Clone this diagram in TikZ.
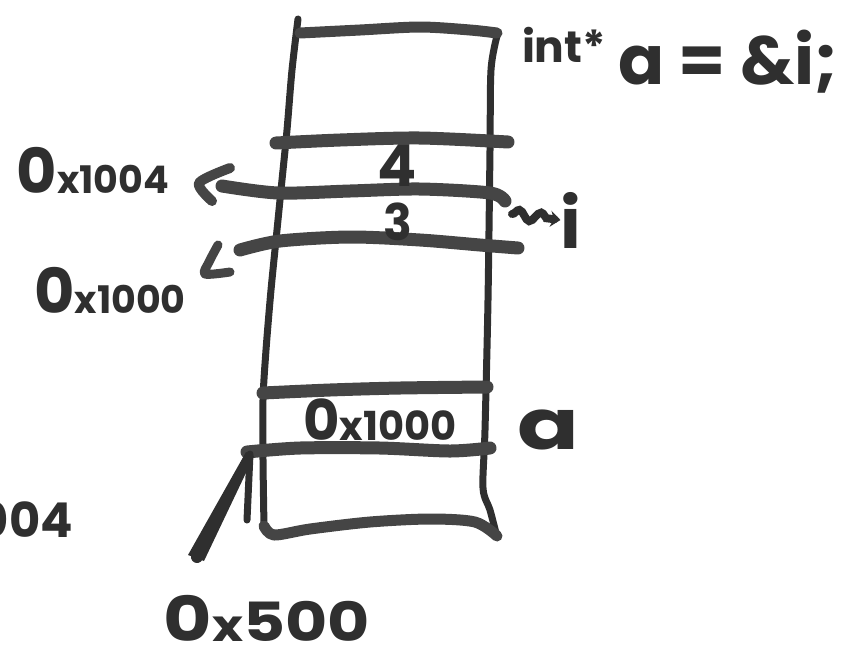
\documentclass[tikz,border=0pt]{standalone}
\usepackage{fontspec}
\setmainfont{Poppins}
\usetikzlibrary{decorations.pathmorphing,arrows.meta,calc}
\definecolor{ink}{HTML}{2F2F2F}
\definecolor{marker}{HTML}{454545}
\newcommand{\bigch}[1]{{\fontsize{62}{62}\selectfont #1}}
\newcommand{\smch}[1]{{\fontsize{38}{38}\selectfont #1}}
\begin{document}
\begin{tikzpicture}[x=1pt,y=-1pt,
  frame/.style={draw=ink,line width=7pt,line cap=round,line join=round},
  row/.style={draw=marker,line width=13pt,line cap=round,line join=round},
  scrawl/.style={text=ink,font=\bfseries,inner sep=0pt},
]
\useasboundingbox (0,0) rectangle (856,657);

% memory column: sides, top and bottom
\draw[frame] plot[smooth] coordinates {(298,19)(292,70)(287,130)(282,180)(277,230)(271,290)(266,350)(263,400)(263,460)(264,527)};
\draw[frame] plot[smooth] coordinates {(497,36)(491,70)(490,150)(488,300)(485,430)(483,488)(490,510)(497,537)};
\draw[row,line width=11pt] plot[smooth] coordinates {(300,33)(360,30)(420,27)(470,30)(497,33)};
\draw[row,line width=11pt] plot[smooth] coordinates {(264,526)(274,535)(310,529)(370,522)(430,519)(475,522)(497,536)};

% cell boundaries
\draw[row] plot[smooth] coordinates {(276,143)(340,140)(420,138)(508,142)};
\draw[row] plot[smooth] coordinates {(222,186)(278,193)(350,191)(420,189)(490,193)(505,201)};
\draw[row] plot[smooth] coordinates {(240,250)(280,241)(350,237)(420,240)(480,245)(518,248)};
\draw[row] plot[smooth] coordinates {(263,393)(330,390)(400,388)(487,387)};
\draw[row] plot[smooth] coordinates {(247,452)(300,448)(380,448)(450,451)(490,448)};

% address ticks
\draw[row,line width=10pt] plot[smooth] coordinates {(230,168)(199,183)(212,201)};
\draw[row,line width=9pt] plot[smooth] coordinates {(218,245)(209,262)(205,274)(230,272)};

% labels
\node[scrawl] (decltype) at (564,45) {\fontsize{44}{44}\selectfont int*};
\node[scrawl,anchor=base west] (declexpr) at (618,84) {\fontsize{68}{68}\selectfont a = \&i;};
\node[scrawl] (addrhi) at (93,170) {\bigch{0}\smch{x1004}};
\node[scrawl] (addrlo) at (110,290) {\bigch{0}\smch{x1000}};
\node[scrawl] (valhi) at (397,166) {\fontsize{58}{58}\selectfont 4};
\node[scrawl] (vallo) at (398,222) {\scalebox{0.85}[0.9]{\fontsize{56}{56}\selectfont 3}};
\node[scrawl] (varname) at (571,220) {\fontsize{70}{70}\selectfont i};
\node[scrawl] (ptrval) at (380,420) {{\fontsize{56}{56}\selectfont 0}{\fontsize{40}{40}\selectfont x1000}};
\node[scrawl] (ptrname) at (548,430) {\scalebox{1.3}[1]{\fontsize{70}{70}\selectfont a}};
\node[scrawl,anchor=base east] (stray) at (73,537) {\fontsize{48}{48}\selectfont 004};
\node[scrawl] (addr500) at (267,618) {\scalebox{1.2}[1]{\bigch{0}{\fontsize{44}{44}\selectfont x}{\fontsize{54}{54}\selectfont 500}}};

% small arrow naming the int cell
\coordinate (sqstart) at (512,214);
\draw[draw=ink,line width=8pt,line cap=round,
      decorate,decoration={snake,amplitude=5pt,segment length=22pt,post length=7pt},
      -{Stealth[length=10pt,width=16pt]}] (sqstart) -- (varname.west);

% brush-stroke arrow from the base address up to the pointer cell
\coordinate (ptrcorner) at (250,454);
\coordinate (ptrtail) at (197,557);
\fill[ink] ($(ptrtail)+(-9,-2)$) -- ($(ptrcorner)+(-4,-2)$) -- ($(ptrcorner)+(4,2)$) -- ($(ptrtail)+(7,4)$) -- cycle;
\draw[draw=ink,line width=12pt,line cap=round] (ptrtail) -- ($(ptrtail)!0.35!(ptrcorner)$);
\draw[draw=ink,line width=7pt,line cap=round] (247,520) -- (ptrcorner);
\end{tikzpicture}
\end{document}
